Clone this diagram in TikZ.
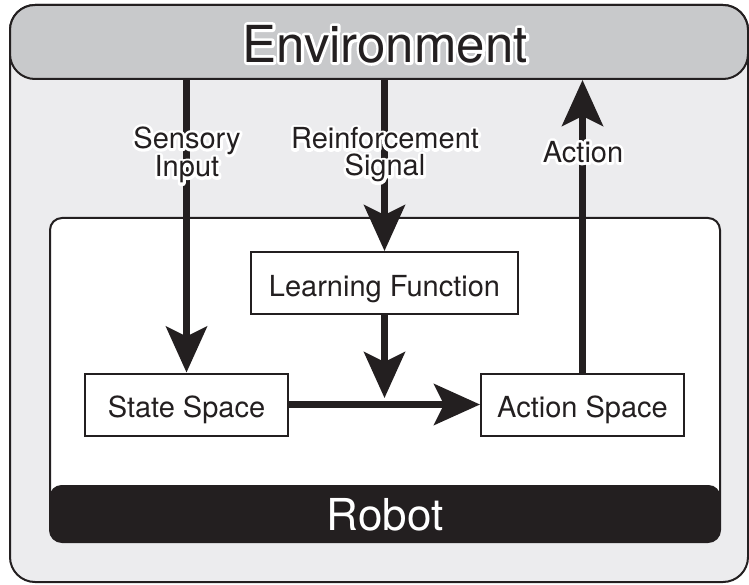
\documentclass[tikz,border=0pt]{standalone}
\usepackage{fontspec}
\setmainfont{TeX Gyre Heros}
\usetikzlibrary{arrows.meta}
\definecolor{ink}{RGB}{35,31,32}
\definecolor{envgray}{RGB}{200,201,203}
\definecolor{bggray}{RGB}{236,236,238}
\tikzset{
  box/.style={draw=ink,line width=2pt,fill=white,minimum width=203pt,minimum height=62pt,
    inner sep=0pt,text height=26pt,text depth=0pt,text=ink,font=\fontsize{29}{29}\selectfont},
  flow/.style={draw=ink,line width=6.5pt,-{Stealth[length=46pt,width=41pt,inset=10pt]}},
  lbl/.style={inner sep=0pt,align=center,text=ink,font=\fontsize{29}{27}\selectfont},
  title/.style={inner sep=0pt,text=ink,font=\fontsize{51}{51}\selectfont},
}
% white stroked copy under the text, then the text itself
\newcommand{\halolabel}[4]{%
  \node[#1,text=white] at (#2)
    {\special{pdf:literal direct 1 Tr 5.6 w 1 j 1 1 1 RG}#4\special{pdf:literal direct 0 Tr}};
  \node[#1] (#3) at (#2) {#4};
}
\begin{document}
\begin{tikzpicture}[x=1pt,y=-1pt]
\useasboundingbox (0,0) rectangle (749,585);
% environment frame and its title band
\draw[ink,line width=2pt,fill=bggray,rounded corners=25pt] (10,5) rectangle (748,582);
\node[draw=ink,line width=2pt,fill=envgray,rounded corners=25pt,minimum width=738pt,
  minimum height=74pt,inner sep=0pt] (env) at (379,42) {};
\halolabel{title}{385,44}{envtitle}{Environment}
% robot
\draw[ink,line width=2pt,fill=white,rounded corners=12pt] (50,218) rectangle (720,542);
\node[fill=ink,rounded corners=12pt,minimum width=671pt,minimum height=57pt,inner sep=0pt,
  text=white,text height=34pt,text depth=0pt,font=\fontsize{44}{44}\selectfont] (robot) at (385,513.5) {Robot};
\node[box,minimum width=267pt] (learn) at (384.5,283) {Learning Function};
\node[box] (state) at (186.5,404.5) {State Space};
\node[box] (action) at (582.5,404.5) {Action Space};
\coordinate (join) at (384.5,398);
% signal flow
\draw[flow] (state.north |- env.south) -- (state.north);
\draw[flow] (learn.north |- env.south) -- (learn.north);
\draw[flow] (action.north) -- (action.north |- env.south);
\draw[flow] (state.east) -- (action.west);
\draw[flow] (learn.south) -- (join);
\halolabel{lbl}{187,155}{sensory}{Sensory\\Input}
\halolabel{lbl}{385,155}{reinf}{Reinforcement\\Signal}
\halolabel{lbl}{583,152}{act}{Action}
\end{tikzpicture}
\end{document}
